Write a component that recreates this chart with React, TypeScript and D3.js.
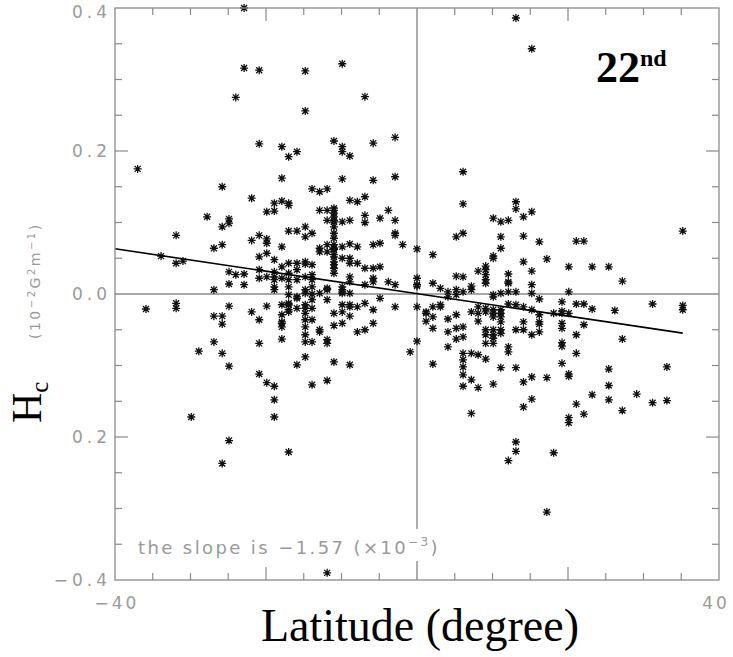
import React, { useEffect, useRef } from 'react';
import * as d3 from 'd3';

const WIDTH = 733;
const HEIGHT = 657;

// axis setup
const latDomain: [number, number] = [-40, 40];
const hcDomain: [number, number] = [-0.4, 0.4];
const xTickValues = [-40, 40];
const xTickLabels = ['\u221240', '40'];
const yTickValues = [0.4, 0.2, 0.0, -0.2, -0.4];
const yTickLabels = ['0.4', '0.2', '0.0', '0.2', '\u22120.4']; // the original prints "0.2" for -0.2

// linear fit printed on the chart: slope -1.57 (x10^-3)
const fitSlope = -1.57e-3;
const fitIntercept = 0.0005;
const fitLatRange: [number, number] = [-40, 35.2];

// H_c values (10^-2 G^2 m^-1) grouped by latitude column
const southColumns: [number, number[]][] = [
  [-37.0, [0.175]],
  [-35.9, [-0.021]],
  [-33.9, [0.053]],
  [-31.9, [0.082, 0.043, -0.013, -0.02]],
  [-31.0, [0.046]],
  [-29.9, [-0.172]],
  [-28.9, [-0.08]],
  [-27.8, [0.108]],
  [-26.9, [0.064, 0.006, -0.031, -0.067]],
  [-25.8, [0.15, 0.094, 0.069, -0.031, -0.042, -0.083, -0.237]],
  [-24.9, [0.105, 0.099, 0.031, 0.014, -0.017, -0.101, -0.205]],
  [-24.0, [0.275, 0.027]],
  [-22.9, [0.4, 0.316, 0.028, 0.013]],
  [-21.9, [0.134, 0.075, -0.025]],
  [-20.9, [0.313, 0.21, 0.082, 0.052, 0.034, 0.022, -0.036, -0.069, -0.112]],
  [-19.9, [0.115, 0.077, 0.071, 0.057, 0.024, -0.017, -0.124]],
  [-18.9, [0.127, 0.116, 0.048, 0.031, 0.024, 0.02, 0.01, 0.006, -0.129, -0.148, -0.172]],
  [-17.9, [0.206, 0.162, 0.13, 0.066, 0.038, 0.022, -0.015, -0.029, -0.039, -0.041, -0.046, -0.063]],
  [-17.0, [0.192, 0.127, 0.124, 0.088, 0.043, 0.029, 0.02, 0.01, -0.001, -0.013, -0.015, -0.022, -0.025, -0.221]],
  [-15.9, [0.199, 0.088, 0.043, 0.034, 0.02, -0.004, -0.006, -0.02, -0.099]],
  [-14.8, [0.312, 0.256, 0.094, 0.08, 0.045, 0.042, 0.024, 0.006, 0.001, -0.015, -0.02, -0.027, -0.036, -0.046, -0.057, -0.067, -0.088]],
  [-13.9, [0.147, 0.085, 0.041, 0.027, 0.02, 0.01, 0.0, -0.008, -0.02, -0.036, -0.067, -0.127]],
  [-12.9, [0.143, 0.117, 0.064, 0.059, 0.001, -0.05, -0.053]],
  [-11.9, [0.147, 0.117, 0.103, 0.069, 0.059, 0.008, 0.006, -0.008, -0.064, -0.069, -0.121, -0.39]],
  [-11.0, [0.214, 0.12, 0.117, 0.113, 0.108, 0.103, 0.101, 0.094, 0.085, 0.078, 0.069, 0.064, 0.062, 0.055, 0.052, 0.045, 0.041, 0.036, 0.029, -0.027, -0.044, -0.095]],
  [-9.9, [0.322, 0.206, 0.199, 0.161, 0.101, 0.066, 0.05, 0.01, 0.006, 0.003, 0.001, -0.015, -0.025, -0.041]],
  [-8.9, [0.193, 0.131, 0.103, 0.07, 0.05, 0.043, 0.024, 0.017, 0.001, -0.015, -0.018, -0.031, -0.099]],
  [-7.9, [0.129, 0.066, 0.043, -0.018, -0.053]],
  [-6.9, [0.276, 0.136, 0.11, 0.1, 0.036, 0.013, -0.013, -0.05]],
  [-5.8, [0.211, 0.159, 0.069, 0.036, 0.022, 0.017, -0.022, -0.041]],
  [-4.9, [0.106, 0.071, 0.038, -0.006]],
  [-3.8, [0.117, 0.017]],
  [-2.9, [0.219, 0.164, 0.103, 0.085, 0.082, 0.013, -0.018]],
  [-1.9, [0.069]],
  [-0.9, [-0.081]],
];

const northColumns: [number, number[]][] = [
  [0.0, [0.063, 0.022, 0.013, 0.011, -0.018, -0.066]],
  [1.2, [-0.025, -0.027, -0.038]],
  [2.1, [0.055, 0.015, -0.018, -0.032, -0.048, -0.098]],
  [3.1, [0.008, -0.015, -0.018]],
  [4.1, [0.003, -0.004, -0.035, -0.053, -0.074]],
  [5.2, [0.08, 0.025, 0.006, -0.001, -0.029, -0.048, -0.063]],
  [6.1, [0.171, 0.126, 0.085, 0.024, 0.003, -0.046, -0.06, -0.083, -0.092, -0.102, -0.113, -0.129]],
  [7.2, [0.011, 0.006, -0.025, -0.083, -0.12, -0.167]],
  [8.1, [0.032, -0.018, -0.027, -0.038, -0.085, -0.131]],
  [9.1, [0.039, 0.034, 0.027, 0.02, 0.015, -0.02, -0.025, -0.05, -0.057, -0.069, -0.091]],
  [10.1, [0.106, 0.053, 0.05, -0.001, -0.004, -0.022, -0.027, -0.032, -0.05, -0.057, -0.062, -0.069, -0.126]],
  [11.1, [0.101, 0.08, 0.064, 0.001, -0.022, -0.027, -0.032, -0.039, -0.05, -0.055, -0.103]],
  [12.1, [0.103, 0.028, 0.017, 0.015, 0.003, -0.014, -0.074, -0.081, -0.233]],
  [13.1, [0.386, 0.129, 0.119, 0.003, -0.015, -0.05, -0.103, -0.207, -0.22]],
  [14.1, [0.108, 0.081, 0.045, -0.018, -0.039, -0.05, -0.123, -0.158]],
  [15.2, [0.343, 0.115, 0.032, 0.013, 0.001, -0.022, -0.057, -0.116, -0.147]],
  [16.2, [0.073, -0.007, -0.029, -0.039, -0.042, -0.053]],
  [17.2, [0.049, -0.117, -0.305]],
  [18.1, [-0.027, -0.222]],
  [19.2, [-0.011, -0.024, -0.027, -0.041, -0.048, -0.068, -0.073, -0.097]],
  [20.1, [0.038, 0.003, -0.027, -0.112, -0.115, -0.173, -0.18]],
  [21.1, [0.074, -0.014, -0.057, -0.083, -0.154]],
  [22.1, [0.074, -0.014, -0.043, -0.168]],
  [23.2, [0.038, -0.021, -0.141]],
  [25.4, [0.038, -0.105, -0.128, -0.148]],
  [26.2, [-0.023]],
  [27.2, [0.018, -0.063, -0.163]],
  [29.1, [-0.14]],
  [31.2, [-0.014, -0.152]],
  [33.1, [-0.102, -0.149]],
  [35.2, [0.088, -0.016, -0.022]],
];

const GRAY = '#8a8a8a';
const LABEL_GRAY = '#9a9a9a';
const STAR = 'M-4,0H4M0,-4V4M-3,-3L3,3M-3,3L3,-3';

const App: React.FC = () => {
  const svgRef = useRef<SVGSVGElement>(null);

  useEffect(() => {
    document.body.style.margin = '0';
    if (!svgRef.current) return;
    const svg = d3.select(svgRef.current);
    svg.selectAll('*').remove();

    const left = 115, right = 719, top = 8, bottom = 580;
    const x = d3.scaleLinear().domain(latDomain).range([left, right]);
    const y = d3.scaleLinear().domain(hcDomain).range([bottom, top]);

    svg.append('rect').attr('width', WIDTH).attr('height', HEIGHT).attr('fill', '#fff');

    // zero lines
    svg.append('line')
      .attr('x1', left).attr('x2', right).attr('y1', y(0)).attr('y2', y(0))
      .attr('stroke', GRAY).attr('stroke-width', 1.4);
    svg.append('line')
      .attr('x1', x(0)).attr('x2', x(0)).attr('y1', top).attr('y2', bottom)
      .attr('stroke', GRAY).attr('stroke-width', 1.4);

    // ticks on all four sides
    const ticks = svg.append('g').attr('stroke', GRAY).attr('stroke-width', 1.2);
    d3.range(-7, 8).forEach(i => {
      if (i === 0) return;
      const v = i * 5;
      const len = i % 4 === 0 ? 13 : 7;
      ticks.append('line').attr('x1', x(v)).attr('x2', x(v)).attr('y1', bottom).attr('y2', bottom - len);
      ticks.append('line').attr('x1', x(v)).attr('x2', x(v)).attr('y1', top).attr('y2', top + len);
    });
    d3.range(-7, 8).forEach(i => {
      if (i === 0) return;
      const v = i * 0.05;
      const len = i % 4 === 0 ? 13 : 7;
      ticks.append('line').attr('x1', left).attr('x2', left + len).attr('y1', y(v)).attr('y2', y(v));
      ticks.append('line').attr('x1', right).attr('x2', right - len).attr('y1', y(v)).attr('y2', y(v));
    });

    // annotation (white box hides the zero line behind it)
    svg.append('rect')
      .attr('x', 134).attr('y', 529).attr('width', 312).attr('height', 32)
      .attr('fill', '#fff');
    const note = svg.append('text')
      .attr('x', 138).attr('y', 554)
      .attr('font-family', '"DejaVu Sans", sans-serif')
      .attr('font-size', 18)
      .attr('letter-spacing', 2.4)
      .attr('fill', LABEL_GRAY);
    note.append('tspan').text('the slope is \u22121.57 (\u00d710');
    note.append('tspan').attr('font-size', 12).attr('dy', -8).text('\u22123');
    note.append('tspan').attr('dy', 8).text(')');

    // points
    const points = [...southColumns, ...northColumns].flatMap(([lat, vals]) =>
      vals.map(v => ({ lat, v }))
    );
    svg.append('g')
      .selectAll('path')
      .data(points)
      .enter()
      .append('path')
      .attr('transform', d => `translate(${x(d.lat)},${y(d.v)})`)
      .attr('d', STAR)
      .attr('stroke', '#111')
      .attr('stroke-width', 1.3)
      .attr('fill', 'none');

    // fit line
    const fitLine = d3.line<number>()
      .x(d => x(d))
      .y(d => y(fitIntercept + fitSlope * d));
    svg.append('path')
      .attr('d', fitLine(fitLatRange))
      .attr('stroke', '#000')
      .attr('stroke-width', 1.6)
      .attr('fill', 'none');

    // frame
    svg.append('rect')
      .attr('x', left).attr('y', top)
      .attr('width', right - left).attr('height', bottom - top)
      .attr('fill', 'none').attr('stroke', GRAY).attr('stroke-width', 1.3);

    // tick labels
    const labelFont = '"DejaVu Sans", sans-serif';
    yTickValues.forEach((v, i) => {
      svg.append('text')
        .attr('x', 111).attr('y', Math.max(y(v), 12))
        .attr('text-anchor', 'end')
        .attr('dominant-baseline', 'central')
        .attr('font-family', labelFont).attr('font-size', 17)
        .attr('letter-spacing', 4)
        .attr('fill', LABEL_GRAY)
        .text(yTickLabels[i]);
    });
    xTickValues.forEach((v, i) => {
      svg.append('text')
        .attr('x', Math.min(x(v) + 2, 716)).attr('y', 603)
        .attr('text-anchor', 'middle')
        .attr('dominant-baseline', 'central')
        .attr('font-family', labelFont).attr('font-size', 17)
        .attr('letter-spacing', 3)
        .attr('fill', LABEL_GRAY)
        .text(xTickLabels[i]);
    });

    // x title
    svg.append('text')
      .attr('x', 420).attr('y', 641)
      .attr('text-anchor', 'middle')
      .attr('font-family', '"Liberation Serif", "Times New Roman", serif')
      .attr('font-size', 46)
      .attr('fill', '#000')
      .text('Latitude (degree)');

    // y title: H_c plus units
    const hc = svg.append('text')
      .attr('transform', 'translate(41,423) rotate(-90)')
      .attr('font-family', '"Liberation Serif", "Times New Roman", serif')
      .attr('fill', '#000');
    hc.append('tspan').attr('font-size', 42).text('H');
    hc.append('tspan').attr('font-size', 25).attr('dy', 7).text('c');

    const units = svg.append('text')
      .attr('transform', 'translate(40,339) rotate(-90)')
      .attr('font-family', labelFont)
      .attr('font-size', 14)
      .attr('letter-spacing', 2.5)
      .attr('fill', LABEL_GRAY);
    units.append('tspan').text('(10');
    units.append('tspan').attr('font-size', 10).attr('dy', -5).text('\u22122');
    units.append('tspan').attr('dy', 5).text('G');
    units.append('tspan').attr('font-size', 10).attr('dy', -5).text('2');
    units.append('tspan').attr('dy', 5).text('m');
    units.append('tspan').attr('font-size', 10).attr('dy', -5).text('\u22121');
    units.append('tspan').attr('dy', 5).text(')');

    // cycle label
    const cycle = svg.append('text')
      .attr('x', 596).attr('y', 82)
      .attr('font-family', '"Liberation Serif", "Times New Roman", serif')
      .attr('font-weight', 'bold')
      .attr('fill', '#000');
    cycle.append('tspan').attr('font-size', 44).text('22');
    cycle.append('tspan').attr('font-size', 24).attr('dy', -16).text('nd');
  }, []);

  return (
    <svg
      ref={svgRef}
      width={WIDTH}
      height={HEIGHT}
      viewBox={`0 0 ${WIDTH} ${HEIGHT}`}
      style={{ display: 'block' }}
    />
  );
};

export default App;
